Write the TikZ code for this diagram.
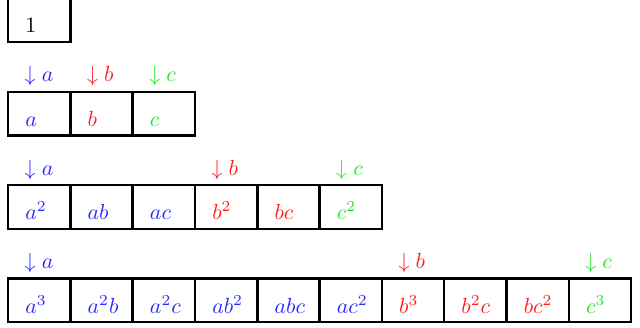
\documentclass[tikz,border=0pt]{standalone}
\definecolor{ca}{RGB}{40,40,255}
\definecolor{cb}{RGB}{255,30,30}
\definecolor{cc}{RGB}{30,235,30}
\begin{document}
\begin{tikzpicture}[
  cell/.style={draw=black, line width=1.1pt, minimum width=1cm, minimum height=0.7cm, inner sep=0pt, outer sep=0pt, anchor=south west},
  entry/.style={anchor=base west, inner sep=0pt, font=\fontsize{10.4}{12}\selectfont},
  tag/.style={anchor=base west, inner sep=0pt, font=\fontsize{10.4}{12}\selectfont}]
\useasboundingbox (0,0) rectangle (10.273,-5.249);
% row 0
\node[cell] (r0c0) at (0.13,-0.673) {};
\node[entry, text=black] (t0c0) at ([xshift=0.27cm,yshift=0.145cm]r0c0.south west) {$1$};
% row 1
\foreach \i/\t/\c in {0/a/ca,1/b/cb,2/c/cc} {
  \node[cell] (r1c\i) at (0.13+\i,-2.173) {};
  \node[entry, text=\c] (t1c\i) at ([xshift=0.27cm,yshift=0.145cm]r1c\i.south west) {$\t$};
}
\node[tag, text=ca] (l1a) at ([xshift=0.26cm,yshift=0.16cm]r1c0.north west) {$\downarrow a$};
\node[tag, text=cb] (l1b) at ([xshift=0.26cm,yshift=0.16cm]r1c1.north west) {$\downarrow b$};
\node[tag, text=cc] (l1c) at ([xshift=0.26cm,yshift=0.16cm]r1c2.north west) {$\downarrow c$};
% row 2
\foreach \i/\t/\c in {0/{a^2}/ca,1/{ab}/ca,2/{ac}/ca,3/{b^2}/cb,4/{bc}/cb,5/{c^2}/cc} {
  \node[cell] (r2c\i) at (0.13+\i,-3.673) {};
  \node[entry, text=\c] (t2c\i) at ([xshift=0.27cm,yshift=0.145cm]r2c\i.south west) {$\t$};
}
\node[tag, text=ca] (l2a) at ([xshift=0.26cm,yshift=0.16cm]r2c0.north west) {$\downarrow a$};
\node[tag, text=cb] (l2b) at ([xshift=0.26cm,yshift=0.16cm]r2c3.north west) {$\downarrow b$};
\node[tag, text=cc] (l2c) at ([xshift=0.26cm,yshift=0.16cm]r2c5.north west) {$\downarrow c$};
% row 3
\foreach \i/\t/\c in {0/{a^3}/ca,1/{a^2b}/ca,2/{a^2c}/ca,3/{ab^2}/ca,4/{abc}/ca,5/{ac^2}/ca,6/{b^3}/cb,7/{b^2c}/cb,8/{bc^2}/cb,9/{c^3}/cc} {
  \node[cell] (r3c\i) at (0.13+\i,-5.173) {};
  \node[entry, text=\c] (t3c\i) at ([xshift=0.27cm,yshift=0.145cm]r3c\i.south west) {$\t$};
}
\node[tag, text=ca] (l3a) at ([xshift=0.26cm,yshift=0.16cm]r3c0.north west) {$\downarrow a$};
\node[tag, text=cb] (l3b) at ([xshift=0.26cm,yshift=0.16cm]r3c6.north west) {$\downarrow b$};
\node[tag, text=cc] (l3c) at ([xshift=0.26cm,yshift=0.16cm]r3c9.north west) {$\downarrow c$};
\end{tikzpicture}
\end{document}
